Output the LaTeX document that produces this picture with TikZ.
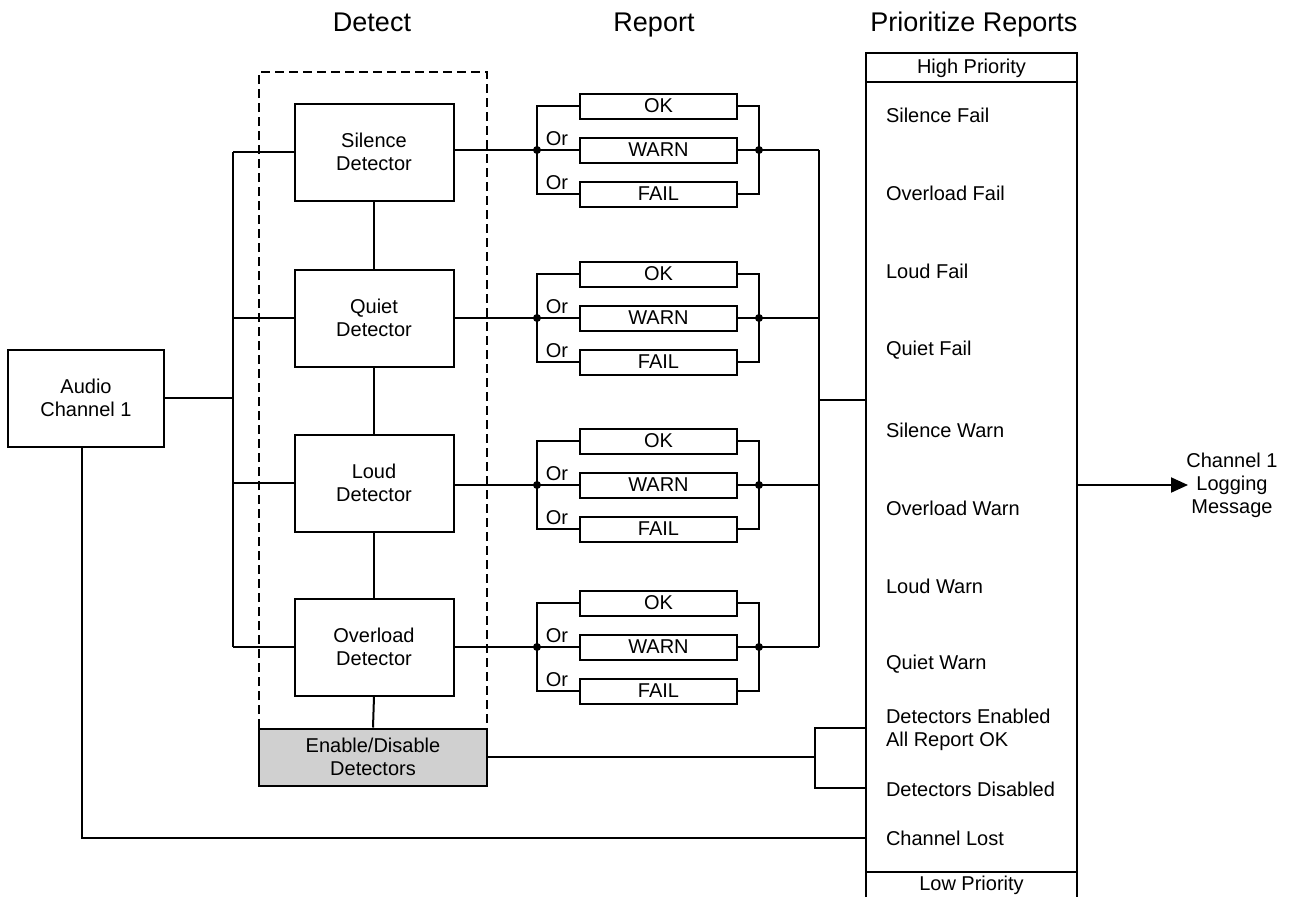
\documentclass[tikz,border=0pt]{standalone}
\usepackage{fontspec}
\setmainfont{Liberation Sans}
\usetikzlibrary{arrows.meta}
\begin{document}
\begin{tikzpicture}[x=1pt,y=-1pt, line width=2pt,
  lbl/.style={font=\fontsize{20}{23}\selectfont, align=center, inner sep=0pt},
  ttl/.style={font=\fontsize{27}{30}\selectfont, inner sep=0pt, anchor=base},
  detbox/.style={draw, lbl, minimum width=159pt, minimum height=97pt},
  repbox/.style={draw, lbl, minimum width=157pt, minimum height=25pt},
  orlbl/.style={lbl},
  item/.style={lbl, anchor=west, align=left},
  dot/.style={circle, fill=black, inner sep=0pt, minimum size=8pt},
  dashbox/.style={draw, dash pattern=on 9pt off 5pt, line width=2.6pt},
  grayfill/.style={fill={rgb,255:red,208;green,208;blue,208}}
]
\useasboundingbox (0,0) rectangle (1303,897);

% titles
\node[ttl] (tDetect) at (372,31) {Detect};
\node[ttl] (tReport) at (654,31) {Report};
\node[ttl] (tPrio) at (974,31) {Prioritize Reports};

% dashed detect region
\draw[dashbox] (259,728) -- (259,72) -- (487,72) -- (487,728);

% detectors
\node[detbox] (d1) at (374,152) {Silence\\Detector};
\node[detbox] (d2) at (374,318) {Quiet\\Detector};
\node[detbox] (d3) at (374,483) {Loud\\Detector};
\node[detbox] (d4) at (374,647) {Overload\\Detector};
\node[draw, lbl, grayfill, minimum width=228pt, minimum height=57pt] (en) at (373,757) {Enable/Disable\\Detectors};

\draw (d1.south) -- (d2.north);
\draw (d2.south) -- (d3.north);
\draw (d3.south) -- (d4.north);
\draw (d4.south) -- (en.north);

% audio
\node[draw, lbl, minimum width=156pt, minimum height=97pt] (audio) at (86,398) {Audio\\Channel 1};
\coordinate (lb) at (233,398);
\draw (audio.east) -- (lb);
\draw (233,152) -- (233,647);
\foreach \d in {d1,d2,d3,d4} {\draw (233,0 |- \d.west) -- (\d.west);}

% report groups
\foreach \n/\yc in {1/150,2/318,3/485,4/647} {
  \node[repbox] (ok\n) at (658.5,\yc-44) {OK};
  \node[repbox] (wa\n) at (658.5,\yc) {WARN};
  \node[repbox] (fa\n) at (658.5,\yc+44) {FAIL};
  \node[dot] (ld\n) at (537,\yc) {};
  \node[dot] (rd\n) at (759,\yc) {};
  \coordinate (rb\n) at (819,\yc);
  \draw (d\n.east |- ld\n) -- (ld\n.center) -- (wa\n.west);
  \draw (ok\n.west) -- (537,\yc-44) -- (537,\yc+44) -- (fa\n.west);
  \draw (ok\n.east) -- (759,\yc-44) -- (759,\yc+44) -- (fa\n.east);
  \draw (wa\n.east) -- (rd\n.center) -- (rb\n);
  \node[orlbl] (or\n a) at (557,\yc-11) {Or};
  \node[orlbl] (or\n b) at (557,\yc+33) {Or};
}
\draw (rb1) -- (rb4);

% priority column
\draw (866,897) -- (866,53) -- (1077,53) -- (1077,897);
\draw (866,82) -- (1077,82);
\draw (866,872) -- (1077,872);
\node[lbl] (hp) at (971.5,68) {High Priority};
\node[lbl] (lp) at (971.5,885) {Low Priority};
\coordinate (pin) at (866,400);
\draw (819,400) -- (pin);

\node[item] (p1) at (885,115) {Silence Fail};
\node[item] (p2) at (885,193) {Overload Fail};
\node[item] (p3) at (885,271) {Loud Fail};
\node[item] (p4) at (885,350) {Quiet Fail};
\node[item] (p5) at (885,430) {Silence Warn};
\node[item] (p6) at (885,508) {Overload Warn};
\node[item] (p7) at (885,586) {Loud Warn};
\node[item] (p8) at (885,664) {Quiet Warn};
\node[item] (p9) at (885,730) {Detectors Enabled\\All Report OK};
\node[item] (p10) at (885,789) {Detectors Disabled};
\node[item] (p11) at (885,838) {Channel Lost};

% enable bracket
\coordinate (eb) at (815,757);
\coordinate (pe1) at (866,728);
\coordinate (pe2) at (866,788);
\draw (en.east) -- (eb);
\draw (pe1) -- (815,728) -- (815,788) -- (pe2);

% channel lost
\coordinate (pcl) at (866,838);
\draw ([xshift=-4pt]audio.south) -- (82,838) -- (pcl);

% output
\coordinate (pout) at (1077,485);
\node[lbl] (msg) at (1232,485) {Channel 1\\Logging\\Message};
\draw[-{Triangle[length=17pt,width=15pt]}] (pout) -- (1188,485);
\end{tikzpicture}
\end{document}
